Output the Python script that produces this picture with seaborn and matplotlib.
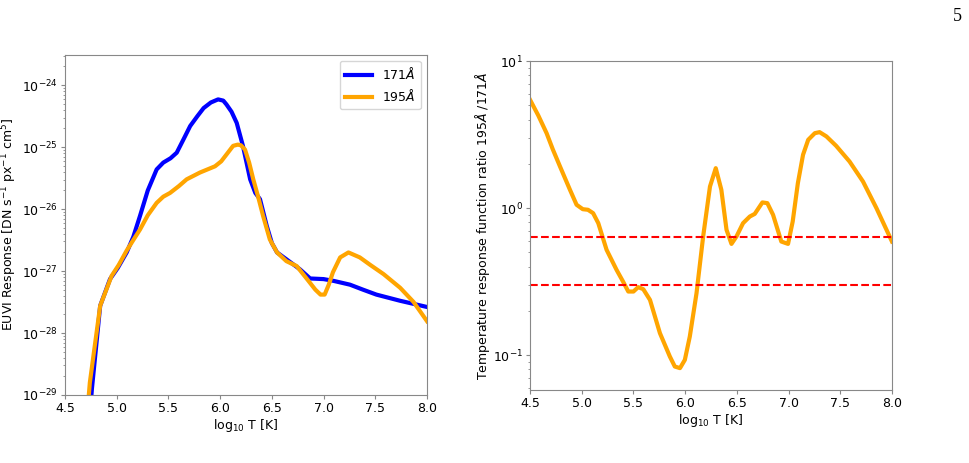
import numpy as np
import pandas as pd
import matplotlib
matplotlib.use("Agg")
import matplotlib.pyplot as plt
import seaborn as sns

# ---- data (log10 T, log10 response) ----
t171 = [4.70, 4.76, 4.84, 4.935, 5.01, 5.096, 5.16, 5.225, 5.30, 5.386, 5.45, 5.52, 5.58, 5.65, 5.71, 5.78,
        5.84, 5.91, 5.98, 6.03, 6.06, 6.11, 6.16, 6.22, 6.29, 6.34, 6.385, 6.45, 6.50, 6.55, 6.64,
        6.77, 6.87, 7.00, 7.10, 7.255, 7.38, 7.51, 7.74, 8.00]
r171 = [-30.2, -28.9, -27.56, -27.13, -26.95, -26.70, -26.45, -26.11, -25.70, -25.36, -25.25, -25.18, -25.09,
        -24.86, -24.66, -24.50, -24.37, -24.28, -24.23, -24.25, -24.31, -24.43, -24.61, -24.98, -25.52,
        -25.74, -25.84, -26.27, -26.55, -26.70, -26.81, -26.97, -27.12, -27.13, -27.16, -27.22, -27.30,
        -27.38, -27.48, -27.58]

t195 = [4.68, 4.74, 4.84, 4.95, 5.02, 5.096, 5.16, 5.225, 5.30, 5.386, 5.45, 5.515, 5.60, 5.676, 5.805,
        5.95, 6.01, 6.07, 6.125, 6.17, 6.20, 6.24, 6.28, 6.32, 6.37, 6.415, 6.48, 6.55, 6.64, 6.74,
        6.84, 6.92, 6.97, 7.01, 7.05, 7.09, 7.16, 7.24, 7.35, 7.45, 7.58, 7.74, 7.87, 8.00]
r195 = [-30.0, -28.8, -27.56, -27.08, -26.90, -26.67, -26.50, -26.33, -26.10, -25.90, -25.80, -25.74,
        -25.63, -25.52, -25.41, -25.31, -25.23, -25.10, -24.98, -24.96, -24.97, -25.04, -25.25, -25.52,
        -25.82, -26.11, -26.49, -26.70, -26.84, -26.92, -27.13, -27.30, -27.38, -27.38, -27.22, -27.02,
        -26.78, -26.70, -26.78, -26.90, -27.05, -27.27, -27.50, -27.81]

# ratio 195/171 (log10 T, log10 ratio)
t_ratio = [4.50, 4.58, 4.66, 4.72, 4.79, 4.886, 4.95, 5.01, 5.06, 5.11, 5.16, 5.24, 5.337, 5.40, 5.45,
           5.50, 5.546, 5.595, 5.66, 5.756, 5.852, 5.90, 5.95, 5.997, 6.045, 6.11, 6.174, 6.24, 6.296,
           6.35, 6.40, 6.448, 6.496, 6.56, 6.625, 6.673, 6.747, 6.795, 6.85, 6.93, 6.995, 7.04, 7.09,
           7.14, 7.19, 7.254, 7.30, 7.366, 7.46, 7.59, 7.72, 7.85, 8.00]
r_ratio = [0.737, 0.63, 0.51, 0.40, 0.283, 0.125, 0.023, -0.007, -0.011, -0.034, -0.102, -0.283, -0.42,
           -0.50, -0.567, -0.567, -0.537, -0.551, -0.624, -0.85, -1.009, -1.077, -1.088, -1.032, -0.873,
           -0.578, -0.193, 0.147, 0.272, 0.125, -0.147, -0.243, -0.193, -0.102, -0.057, -0.039, 0.039,
           0.034, -0.045, -0.227, -0.243, -0.091, 0.17, 0.363, 0.465, 0.51, 0.517, 0.488, 0.424, 0.317,
           0.181, 0.0, -0.227]

thresholds = [0.64, 0.30]
labels = ["171$\\AA$", "195$\\AA$"]

df = pd.DataFrame({
    "T": t171 + t195,
    "R": list(10.0 ** np.array(r171)) + list(10.0 ** np.array(r195)),
    "band": [labels[0]] * len(t171) + [labels[1]] * len(t195),
})
dr = pd.DataFrame({"T": t_ratio, "ratio": 10.0 ** np.array(r_ratio)})

plt.rcParams["font.family"] = ["DejaVu Sans"]
plt.rcParams["mathtext.fontset"] = "dejavusans"
plt.rcParams["xtick.labelsize"] = 9
plt.rcParams["ytick.labelsize"] = 9

fig = plt.figure(figsize=(9.69, 4.63), dpi=100)
ax1 = fig.add_axes([0.0671, 0.1469, 0.3736, 0.735])
ax2 = fig.add_axes([0.547, 0.1577, 0.3735, 0.7103])

sns.lineplot(data=df, x="T", y="R", hue="band", palette=["blue", "orange"], lw=3, ax=ax1, sort=False)
ax1.set_yscale("log")
ax1.set_xlim(4.5, 8.0)
ax1.set_ylim(1e-29, 3.1e-24)
ax1.set_xlabel("log$_{10}$ T [K]", fontsize=9)
ax1.set_ylabel("EUVI Response [DN s$^{-1}$ px$^{-1}$ cm$^5$]", fontsize=9)
ax1.yaxis.set_label_coords(-0.127, 0.5)
ax1.legend(loc="upper right", fontsize=9, handlelength=2.2, borderaxespad=0.5)

sns.lineplot(data=dr, x="T", y="ratio", color="orange", lw=3, ax=ax2, sort=False)
for th in thresholds:
    ax2.axhline(th, color="red", ls="--", lw=1.5)
ax2.set_yscale("log")
ax2.set_xlim(4.5, 8.0)
ax2.set_ylim(0.058, 10)
ax2.set_xlabel("log$_{10}$ T [K]", fontsize=9)
ax2.set_ylabel("Temperature response function ratio 195$\\AA$ /171$\\AA$", fontsize=9)
ax2.yaxis.set_label_coords(-0.105, 0.5)

for ax in (ax1, ax2):
    for s in ax.spines.values():
        s.set_color("#888888")
    ax.tick_params(which="both", colors="#888888", labelcolor="black")
    ax.tick_params(which="major", length=2.8, pad=2.5)
    ax.tick_params(which="minor", length=1.6)
    ax.xaxis.labelpad = 1

fig.text(0.993, 0.983, "5", fontfamily="Liberation Serif", fontsize=13, ha="right", va="top")

fig.savefig("out.png", dpi=100)
